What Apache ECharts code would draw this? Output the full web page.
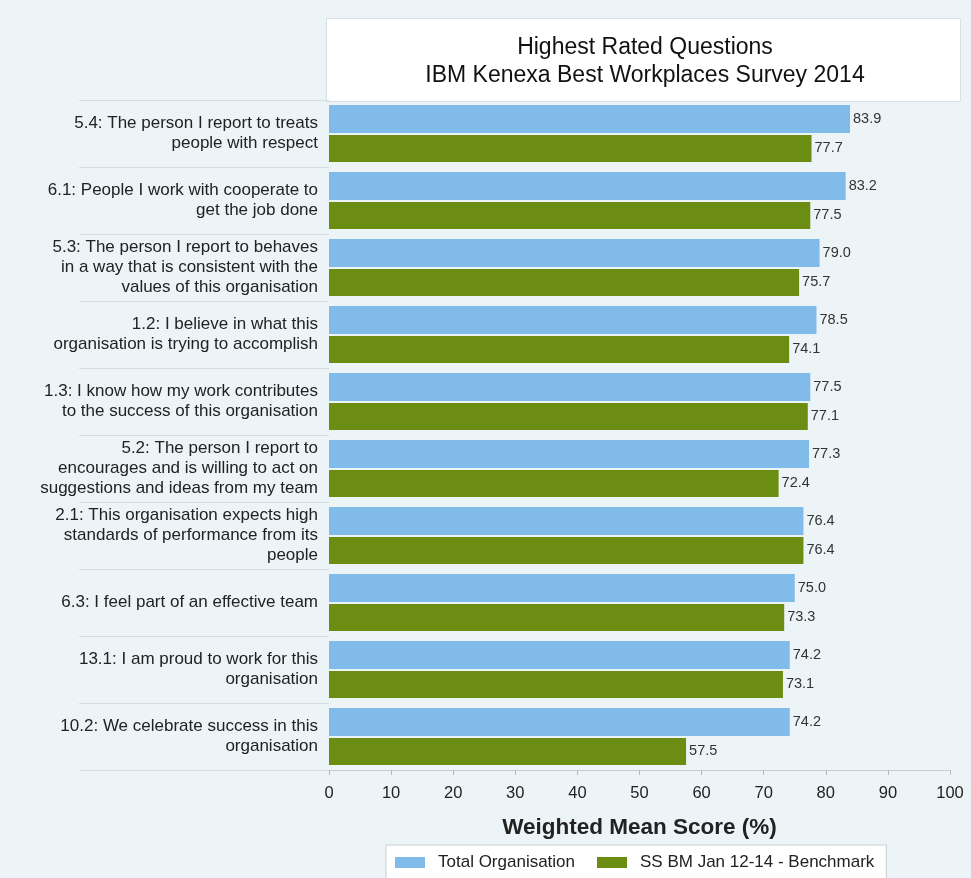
<!DOCTYPE html>
<html>
<head>
<meta charset="utf-8">
<script src="https://cdn.jsdelivr.net/npm/echarts@6/dist/echarts.min.js"></script>
<style>
html,body{margin:0;padding:0;background:#edf4f7;}
#chart{width:971px;height:878px;}
</style>
</head>
<body>
<div id="chart"></div>
<script>
var categories = [
  "5.4: The person I report to treats\npeople with respect",
  "6.1: People I work with cooperate to\nget the job done",
  "5.3: The person I report to behaves\nin a way that is consistent with the\nvalues of this organisation",
  "1.2: I believe in what this\norganisation is trying to accomplish",
  "1.3: I know how my work contributes\nto the success of this organisation",
  "5.2: The person I report to\nencourages and is willing to act on\nsuggestions and ideas from my team",
  "2.1: This organisation expects high\nstandards of performance from its\npeople",
  "6.3: I feel part of an effective team",
  "13.1: I am proud to work for this\norganisation",
  "10.2: We celebrate success in this\norganisation"
];
var totalOrg = [83.9, 83.2, 79.0, 78.5, 77.5, 77.3, 76.4, 75.0, 74.2, 74.2];
var benchmark = [77.7, 77.5, 75.7, 74.1, 77.1, 72.4, 76.4, 73.3, 73.1, 57.5];
var seriesNames = ["Total Organisation", "SS BM Jan 12-14 - Benchmark"];

var chart = echarts.init(document.getElementById('chart'));
var font = 'Liberation Sans, Arial, sans-serif';
chart.setOption({
  backgroundColor: '#edf4f7',
  animation: false,
  textStyle: {fontFamily: font},
  graphic: [{
    type: 'rect', left: 326, top: 18,
    shape: {width: 634, height: 83},
    style: {fill: '#ffffff', stroke: '#d8dfe3', lineWidth: 1}
  }],
  title: {
    text: 'Highest Rated Questions\nIBM Kenexa Best Workplaces Survey 2014',
    left: 640, top: 28, textAlign: 'center',
    textStyle: {fontSize: 23, fontWeight: 'normal', color: '#111', lineHeight: 28.5, fontFamily: font}
  },
  legend: {
    data: seriesNames,
    top: 845, left: 386,
    itemWidth: 30, itemHeight: 11, itemGap: 22,
    backgroundColor: '#ffffff', borderColor: '#c8cfd3', borderWidth: 1,
    padding: [9, 12, 20, 9],
    icon: 'rect',
    textStyle: {fontSize: 17, color: '#222', padding: [0, 0, 0, 8], fontFamily: font}
  },
  grid: {left: 329, right: 21, top: 100, bottom: 108},
  xAxis: {
    type: 'value', min: 0, max: 100, interval: 10,
    name: 'Weighted Mean Score (%)', nameLocation: 'middle', nameGap: 46,
    nameTextStyle: {fontSize: 22.5, fontWeight: 'bold', color: '#222', fontFamily: font},
    axisLine: {show: true, lineStyle: {color: '#c8ced2'}},
    axisTick: {show: true, lineStyle: {color: '#b5bcc0'}},
    axisLabel: {fontSize: 16.5, color: '#222', margin: 15, fontFamily: font},
    splitLine: {show: false}
  },
  yAxis: {
    type: 'category', data: categories, inverse: true,
    axisLine: {show: false},
    axisTick: {show: true, length: 250, alignWithLabel: false, lineStyle: {color: '#d5dde1'}},
    axisLabel: {fontSize: 17, color: '#222', lineHeight: 20, margin: 11, align: 'right', fontFamily: font},
    splitLine: {show: false}
  },
  series: [{
    name: seriesNames[0], type: 'bar', data: totalOrg,
    barWidth: 28, barGap: '7%',
    itemStyle: {color: '#80bbea'},
    label: {show: true, position: 'right', distance: 3, fontSize: 14.5, color: '#333',
      formatter: function(p){return p.value.toFixed(1);}}
  }, {
    name: seriesNames[1], type: 'bar', data: benchmark,
    barWidth: 27,
    itemStyle: {color: '#6b8e12'},
    label: {show: true, position: 'right', distance: 3, fontSize: 14.5, color: '#333',
      formatter: function(p){return p.value.toFixed(1);}}
  }]
});
</script>
</body>
</html>
